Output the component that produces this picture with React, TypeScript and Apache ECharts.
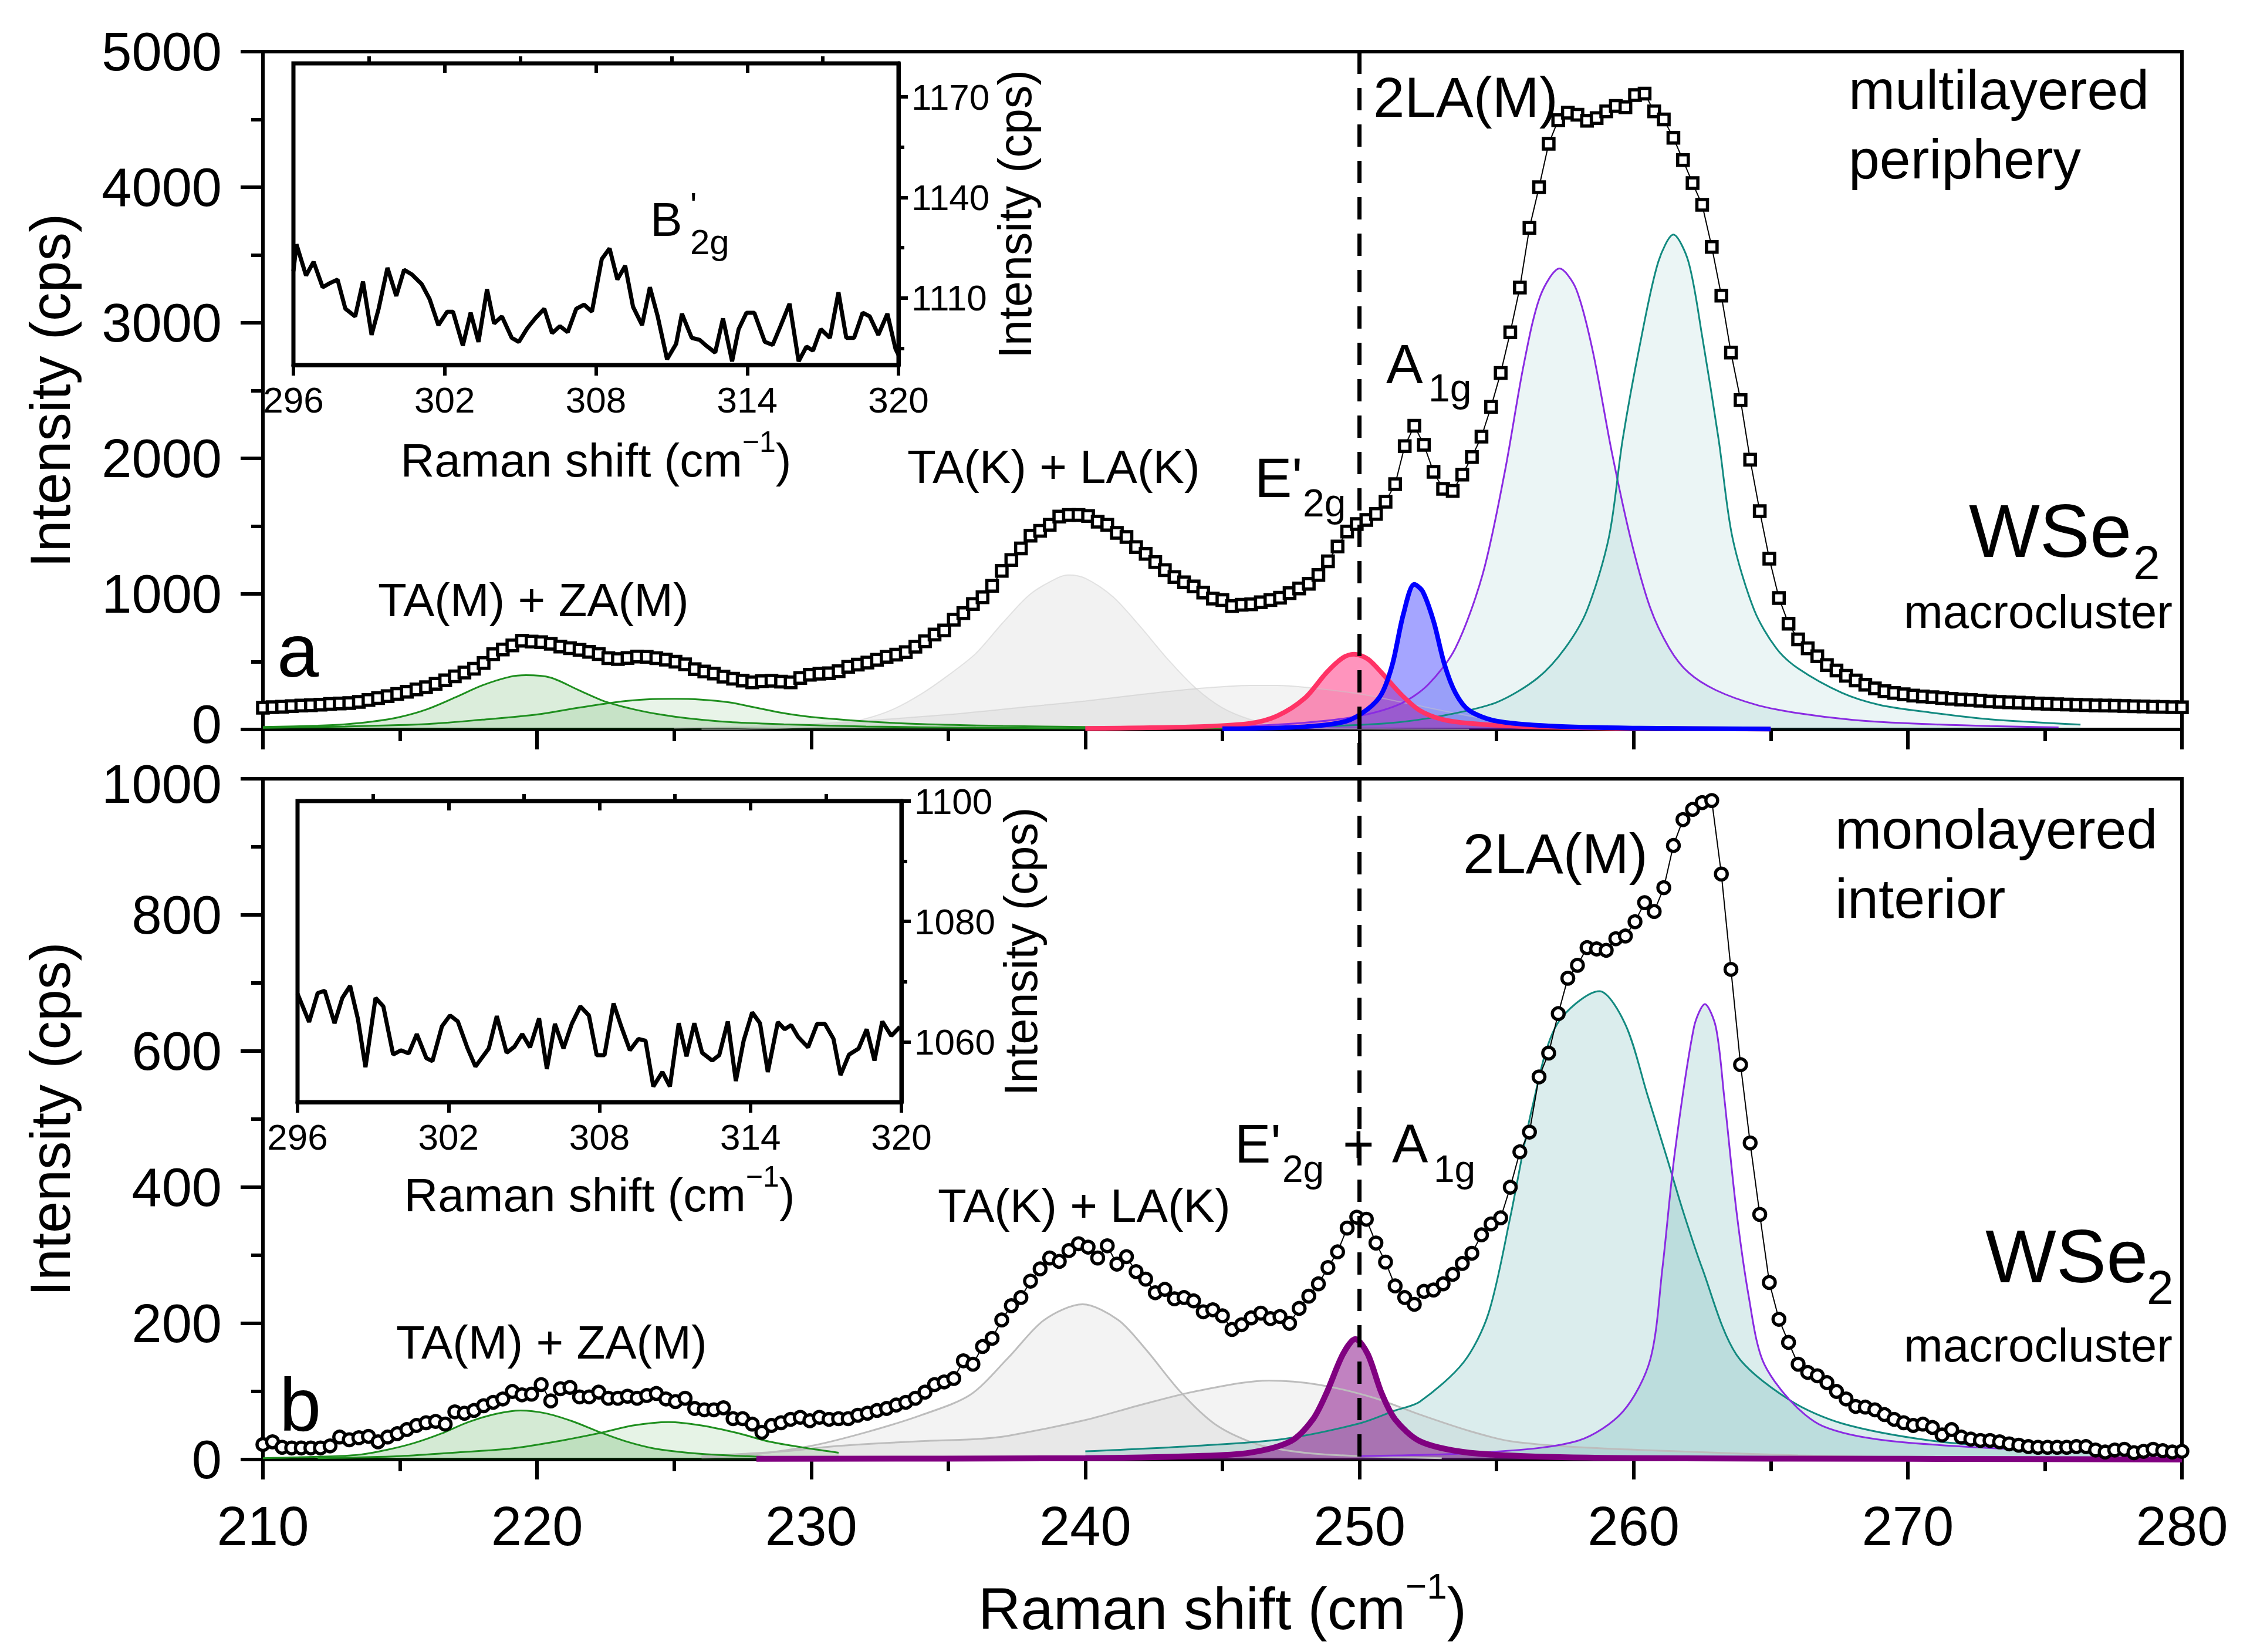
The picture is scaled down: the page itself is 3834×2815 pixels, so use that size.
import React, { useEffect, useRef } from "react";
import * as echarts from "echarts";

const FONT = "'Liberation Sans', Arial, Helvetica, sans-serif";

// ---------- main spectra (x grid: 210 → 280, step 0.35 cm-1) ----------
const mainX: number[] = Array.from({ length: 201 }, (_, i) => +(210 + 0.35 * i).toFixed(2));

const topY = [
  160, 165, 168, 172, 176, 179, 183, 188, 192, 195,
  203, 217, 232, 246, 262, 278, 295, 312, 337, 363,
  392, 420, 448, 490, 555, 590, 620, 655, 648, 644,
  632, 612, 600, 588, 572, 556, 526, 520, 527, 538,
  536, 526, 515, 500, 480, 445, 428, 412, 390, 375,
  360, 347, 356, 359, 353, 347, 380, 404, 411, 415,
  430, 462, 478, 494, 514, 536, 552, 570, 610, 650,
  700, 730, 810, 858, 925, 975, 1060, 1170, 1250, 1335,
  1430, 1465, 1510, 1570, 1582, 1582, 1575, 1532, 1510, 1450,
  1420, 1345, 1295, 1235, 1175, 1125, 1085, 1055, 1010, 965,
  955, 910, 920, 923, 938, 955, 972, 1005, 1040, 1075,
  1140, 1240, 1350, 1460, 1515, 1545, 1590, 1680, 1810, 2090,
  2240, 2100, 1900, 1775, 1760, 1880, 2010, 2160, 2380, 2630,
  2930, 3260, 3700, 4000, 4320, 4495, 4550, 4535, 4490, 4510,
  4560, 4600, 4590, 4680, 4690, 4560, 4500, 4365, 4200, 4030,
  3870, 3560, 3200, 2780, 2430, 1990, 1610, 1260, 970, 780,
  665, 598, 540, 475, 435, 396, 362, 330, 303, 283,
  270, 260, 250, 244, 238, 232, 226, 221, 217, 212,
  207, 204, 200, 198, 195, 192, 189, 186, 184, 182,
  180, 178, 176, 175, 173, 171, 170, 168, 167, 165,
  163,
];

const botY = [
  22, 26, 18, 17, 17, 17, 17, 20, 33, 29,
  32, 34, 26, 33, 38, 44, 50, 54, 56, 52,
  70, 68, 72, 79, 84, 89, 100, 95, 96, 110,
  86, 104, 106, 92, 92, 99, 90, 90, 93, 90,
  94, 97, 89, 85, 90, 75, 73, 73, 76, 60,
  60, 52, 40, 50, 54, 59, 62, 57, 62, 59,
  60, 60, 65, 68, 72, 75, 80, 84, 90, 99,
  110, 114, 119, 145, 140, 166, 178, 205, 226, 238,
  262, 280, 296, 291, 307, 317, 312, 296, 314, 287,
  298, 276, 265, 245, 250, 236, 238, 233, 217, 220,
  211, 191, 198, 208, 215, 207, 210, 200, 222, 240,
  258, 282, 305, 340, 356, 353, 318, 290, 255, 238,
  228, 247, 249, 258, 272, 288, 303, 330, 346, 355,
  400, 452, 481, 562, 597, 655, 707, 726, 752, 750,
  748, 765, 769, 790, 818, 805, 840, 902, 940, 955,
  965, 968, 860, 720, 580, 465, 360, 260, 206, 172,
  140, 128, 123, 113, 100, 89, 78, 77, 73, 66,
  59, 54, 50, 52, 47, 36, 44, 33, 30, 28,
  28, 26, 23, 21, 19, 18, 18, 18, 18, 19,
  19, 14, 11, 14, 15, 10, 12, 15, 13, 11,
  12,
];

// ---------- fitted components, panel a ----------
const aGreen1 = [[210, 18], [212, 28], [213, 38], [214, 58], [215, 92], [216, 150], [217, 235], [218, 325], [219, 388], [219.6, 400], [220.5, 382], [221.5, 292], [222.5, 205], [223.5, 150], [224.5, 110], [225.5, 82], [227, 55], [229, 38], [232, 22], [236, 13], [240, 8]];
const aGreen2 = [[210, 12], [213, 22], [216, 40], [218, 72], [220, 110], [221.5, 160], [223, 205], [224, 222], [225, 226], [226, 220], [227, 200], [228, 160], [229, 120], [230, 92], [232, 60], [234, 40], [237, 26], [240, 18], [245, 10]];
const aGray1 = [[226, 2], [228, 5], [230, 20], [231, 40], [232, 80], [233, 150], [234, 260], [235, 400], [236, 560], [237, 790], [238, 1000], [239, 1120], [239.4, 1140], [240, 1115], [241, 980], [242, 760], [243, 520], [244, 310], [245, 160], [246, 75], [247, 30], [248, 12], [250, 4], [254, 1]];
const aGray2 = [[225, 10], [230, 40], [235, 110], [238, 170], [240, 210], [242, 258], [244, 300], [246, 325], [247, 325], [248, 312], [250, 262], [252, 182], [254, 100], [256, 50], [258, 22], [260, 10], [263, 3]];
const aRed = [[240, 8], [244, 20], [246, 45], [247, 100], [248, 230], [248.8, 420], [249.4, 530], [249.8, 555], [250.3, 520], [250.8, 420], [251.5, 262], [252.2, 140], [253, 75], [254, 45], [256, 22], [260, 8], [265, 3]];
const aBlue = [[245, 5], [248, 20], [249.5, 60], [250.3, 150], [250.8, 260], [251.2, 480], [251.6, 850], [252.0, 1070], [252.3, 1020], [252.7, 800], [253.1, 480], [253.5, 270], [254, 140], [255, 62], [257, 25], [260, 10], [265, 3]];
const aViolet = [[240, 8], [245, 20], [248, 50], [250, 100], [251.5, 190], [252.5, 330], [253.5, 600], [254.5, 1150], [255.3, 1900], [256, 2700], [256.6, 3200], [257.3, 3400], [257.9, 3250], [258.5, 2800], [259.2, 2050], [259.9, 1400], [260.6, 900], [261.3, 600], [262, 420], [263, 290], [264.5, 180], [266, 120], [268, 70], [270, 45], [273, 25], [275.5, 15]];
const aTeal = [[245, 12], [248, 20], [251, 45], [253, 100], [255, 200], [256.5, 380], [257.5, 600], [258.3, 880], [259.1, 1420], [259.6, 2140], [260.25, 2860], [260.9, 3450], [261.45, 3650], [262, 3450], [262.5, 2900], [263.1, 2140], [263.6, 1420], [264.4, 880], [265.2, 600], [266, 450], [267.6, 270], [269, 180], [270.8, 126], [273, 75], [276.3, 36]];

// ---------- fitted components, panel b ----------
const bGreen1 = [[210, 2], [212, 4], [213.5, 7], [214.5, 14], [215.5, 24], [216.5, 38], [217.5, 55], [218.5, 67], [219.4, 72], [220.3, 68], [221.3, 56], [222.3, 40], [223.3, 26], [224.3, 16], [225.5, 10], [227, 6], [229, 3], [232, 1]];
const bGreen2 = [[212, 2], [215, 5], [217.3, 11], [219, 16], [220.5, 25], [222.3, 39], [223.5, 50], [224.8, 55], [226, 50], [227.3, 39], [228.5, 26], [229.8, 17], [231, 10]];
const bGray1 = [[226, 3], [228, 8], [230, 20], [232, 40], [234, 65], [235.8, 95], [237.2, 150], [238.5, 205], [239.9, 228], [241.2, 205], [242.2, 162], [243.5, 98], [244.8, 50], [246.3, 22], [248, 10], [250, 5], [253, 2]];
const bGray2 = [[226, 5], [229, 12], [231, 20], [234, 27], [236, 30], [237.2, 35], [240, 58], [242, 80], [244, 100], [246.7, 116], [248.5, 110], [250.5, 91], [252.2, 66], [254, 42], [255.5, 27], [258, 18], [261.6, 12], [266, 6], [272, 2]];
const bPurple = [[228, 1], [240, 2], [244, 5], [246, 10], [247.5, 27], [248.3, 59], [248.8, 98], [249.4, 155], [249.85, 177], [250.3, 155], [250.8, 98], [251.3, 59], [252.2, 27], [253.8, 11], [256, 5], [260, 2], [270, 1], [280, 0]];
const bTeal = [[240, 12], [244, 20], [247.2, 30], [250, 53], [251.3, 72], [252.2, 85], [253.8, 143], [254.7, 214], [255.5, 356], [256.3, 517], [257.2, 639], [258.75, 688], [259.7, 639], [260.5, 536], [261.2, 445], [261.8, 365], [262.5, 281], [263.75, 154], [265.7, 87], [267.6, 53], [270.8, 28], [274, 18], [280, 10]];
const bViolet = [[250, 5], [254.8, 11], [258, 28], [259.6, 70], [260.6, 146], [261.05, 281], [261.5, 450], [262.2, 635], [262.6, 669], [263.0, 635], [263.3, 534], [263.75, 365], [264.2, 239], [264.7, 146], [265.7, 87], [266.9, 49], [269.2, 28], [274, 15], [280, 8]];

// ---------- insets (B'2g region) ----------
const insetA = [[296.0, 1118], [296.12, 1126.0], [296.5, 1116.7], [296.8, 1120.8], [297.16, 1113.2], [297.44, 1114.4], [297.75, 1115.5], [298.06, 1106.8], [298.45, 1104.5], [298.76, 1114.9], [299.1, 1099.0], [299.38, 1106.8], [299.73, 1119.0], [300.08, 1110.6], [300.39, 1118.4], [300.7, 1117.0], [301.09, 1114.1], [301.4, 1109.7], [301.75, 1101.9], [302.1, 1105.9], [302.33, 1105.9], [302.72, 1095.8], [303.03, 1105.6], [303.34, 1096.9], [303.68, 1112.6], [303.96, 1102.4], [304.27, 1104.5], [304.66, 1098.1], [304.94, 1096.9], [305.28, 1101.0], [305.59, 1103.9], [305.95, 1106.8], [306.26, 1099.5], [306.57, 1101.6], [306.88, 1099.8], [307.22, 1106.8], [307.53, 1108.0], [307.84, 1105.9], [308.23, 1121.6], [308.54, 1124.8], [308.85, 1115.5], [309.16, 1119.6], [309.47, 1107.4], [309.83, 1101.9], [310.14, 1113.2], [310.45, 1104.5], [310.82, 1091.7], [311.18, 1096.3], [311.41, 1105.3], [311.8, 1098.1], [312.11, 1097.5], [312.42, 1095.5], [312.73, 1093.7], [313.04, 1103.9], [313.4, 1091.1], [313.66, 1100.7], [313.97, 1105.6], [314.28, 1105.6], [314.7, 1096.9], [315.01, 1096.0], [315.32, 1101.6], [315.68, 1108.3], [316.04, 1091.1], [316.35, 1095.5], [316.61, 1094.3], [316.92, 1100.7], [317.28, 1098.1], [317.62, 1111.7], [317.93, 1098.1], [318.24, 1098.1], [318.58, 1105.6], [318.86, 1104.5], [319.2, 1099.0], [319.56, 1105.3], [319.88, 1094.9], [320, 1093]];
const insetB = [[296.0, 1068.0], [296.46, 1063.3], [296.8, 1068.1], [297.08, 1068.5], [297.47, 1063.1], [297.78, 1067.3], [298.09, 1069.3], [298.4, 1063.8], [298.7, 1055.8], [299.1, 1067.3], [299.41, 1065.9], [299.8, 1057.9], [300.11, 1058.6], [300.42, 1058.1], [300.74, 1061.3], [301.12, 1057.3], [301.36, 1056.8], [301.74, 1062.6], [302.06, 1064.4], [302.37, 1063.4], [302.76, 1058.9], [303.07, 1055.9], [303.6, 1058.9], [303.92, 1064.3], [304.31, 1058.2], [304.62, 1059.2], [304.93, 1061.3], [305.24, 1059.1], [305.6, 1063.9], [305.91, 1055.5], [306.23, 1063.0], [306.57, 1058.9], [306.9, 1063.0], [307.24, 1065.9], [307.58, 1064.4], [307.89, 1057.8], [308.2, 1057.8], [308.56, 1066.4], [308.87, 1062.5], [309.21, 1058.6], [309.55, 1060.5], [309.83, 1060.2], [310.14, 1052.6], [310.5, 1055.0], [310.8, 1052.6], [311.15, 1063.1], [311.46, 1057.6], [311.77, 1063.1], [312.08, 1058.2], [312.48, 1056.9], [312.76, 1057.8], [313.1, 1063.4], [313.42, 1053.5], [313.73, 1060.2], [314.07, 1064.9], [314.38, 1063.1], [314.69, 1055.0], [315.09, 1063.3], [315.36, 1062.1], [315.62, 1062.8], [315.9, 1060.8], [316.29, 1059.1], [316.65, 1063.0], [316.96, 1063.0], [317.3, 1060.5], [317.58, 1054.5], [317.92, 1057.9], [318.3, 1058.9], [318.62, 1062.1], [318.93, 1056.9], [319.24, 1063.4], [319.6, 1061.0], [319.94, 1062.5]];

// tick labels
const mainXTicks = [210, 220, 230, 240, 250, 260, 270, 280];
const insetXLabels = [296, 302, 308, 314, 320];
const insetXMinor = [299, 305, 311, 317];
const insetXTopTicks = [302, 308, 314];
const insetAYLabels = [1110, 1140, 1170];
const insetAYMinor = [1095, 1125, 1155];
const insetBYLabels = [1060, 1080, 1100];
const insetBYMinor = [1070, 1090];

const BLACK = "#000";
const plain = (v: number) => String(v);

function mainXAxis(gridIndex: number, showLabels: boolean) {
  return {
    type: "value", gridIndex, min: mainXTicks[0], max: mainXTicks[mainXTicks.length - 1], interval: 10,
    axisLine: { show: true, onZero: false, lineStyle: { color: BLACK, width: 6 } },
    axisTick: { show: true, length: 34, lineStyle: { color: BLACK, width: 6 } },
    minorTick: { show: true, splitNumber: 2, length: 20, lineStyle: { color: BLACK, width: 6 } },
    axisLabel: { show: showLabels, fontSize: 94, color: BLACK, fontFamily: FONT, margin: 66, formatter: plain },
    splitLine: { show: false },
    name: showLabels ? "{a|Raman shift (cm}{b|\u22121}{a|)}" : "",
    nameLocation: "middle", nameGap: 184,
    nameTextStyle: {
      rich: {
        a: { fontSize: 100, fontFamily: FONT, color: BLACK, lineHeight: 120, verticalAlign: "bottom" },
        b: { fontSize: 62, fontFamily: FONT, color: BLACK, lineHeight: 62, verticalAlign: "top" },
      },
    },
  };
}

// top panel: the "0" label is nudged up slightly, bottom panel: the "1000" label nudged down slightly
function mainYAxis(gridIndex: number, max: number, interval: number, nudge: "lo" | "hi") {
  const tok = { fontSize: 92, fontFamily: FONT, color: BLACK };
  return {
    type: "value", gridIndex, min: 0, max, interval,
    axisLine: { show: true, onZero: false, lineStyle: { color: BLACK, width: 6 } },
    axisTick: { show: true, length: 38, lineStyle: { color: BLACK, width: 6 } },
    minorTick: { show: true, splitNumber: 2, length: 20, lineStyle: { color: BLACK, width: 6 } },
    axisLabel: {
      fontSize: 92, color: BLACK, fontFamily: FONT, margin: 70,
      formatter: (v: number) => {
        if (nudge === "lo" && v === 0) return "{lo|0}";
        if (nudge === "hi" && v === max) return "{hi|" + v + "}";
        return String(v);
      },
      rich: {
        lo: { ...tok, padding: [0, 0, 18, 0] },
        hi: { ...tok, padding: [18, 0, 0, 0] },
      },
    },
    splitLine: { show: false },
    name: "Intensity (cps)", nameLocation: "middle", nameRotate: 90, nameGap: 314,
    nameTextStyle: { fontSize: 97, color: BLACK, fontFamily: FONT },
  };
}

function insetXAxes(gridIndex: number, nameGap: number) {
  const common = { type: "value", gridIndex, min: insetXLabels[0], max: insetXLabels[insetXLabels.length - 1], splitLine: { show: false } };
  return [
    {
      ...common,
      axisLine: { show: true, onZero: false, lineStyle: { color: BLACK, width: 7 } },
      axisTick: { show: true, customValues: insetXLabels, length: 18, lineStyle: { color: BLACK, width: 6 } },
      axisLabel: { customValues: insetXLabels, fontSize: 62, color: BLACK, fontFamily: FONT, margin: 28, formatter: plain },
      name: "{a|Raman shift (cm}{b|\u22121}{a|)}", nameLocation: "middle", nameGap,
      nameTextStyle: {
        rich: {
          a: { fontSize: 80, fontFamily: FONT, color: BLACK, lineHeight: 96, verticalAlign: "bottom" },
          b: { fontSize: 50, fontFamily: FONT, color: BLACK, lineHeight: 50, verticalAlign: "top" },
        },
      },
    },
    {
      ...common,
      axisLine: { show: false },
      axisTick: { show: true, customValues: insetXMinor, length: 12, lineStyle: { color: BLACK, width: 6 } },
      axisLabel: { show: false },
    },
    {
      ...common, position: "top",
      axisLine: { show: false },
      axisTick: { show: true, inside: true, customValues: insetXTopTicks, length: 16, lineStyle: { color: BLACK, width: 6 } },
      axisLabel: { show: false },
    },
  ];
}

function insetYAxes(gridIndex: number, min: number, max: number, labels: number[], minor: number[]) {
  const common = { type: "value", gridIndex, min, max, position: "right", splitLine: { show: false } };
  return [
    {
      ...common,
      axisLine: { show: true, onZero: false, lineStyle: { color: BLACK, width: 7 } },
      axisTick: { show: true, customValues: labels, length: 16, lineStyle: { color: BLACK, width: 6 } },
      axisLabel: { customValues: labels, fontSize: 62, color: BLACK, fontFamily: FONT, margin: 22, formatter: plain },
      name: "Intensity (cps)", nameLocation: "middle", nameRotate: 90, nameGap: 156,
      nameTextStyle: { fontSize: 79, color: BLACK, fontFamily: FONT },
    },
    {
      ...common,
      axisLine: { show: false },
      axisTick: { show: true, customValues: minor, length: 10, lineStyle: { color: BLACK, width: 6 } },
      axisLabel: { show: false },
    },
  ];
}

function comp(data: number[][], xi: number, yi: number, line: string, width: number, fill: string) {
  return {
    type: "line", data, xAxisIndex: xi, yAxisIndex: yi,
    smooth: 0.3, symbol: "none", silent: true,
    lineStyle: { color: line, width },
    areaStyle: { color: fill, origin: "start" },
    z: 2,
  };
}

function text(t: string, x: number, baseline: number, size: number, align = "left") {
  return {
    type: "text", x, y: baseline - 0.35 * size, z: 100, silent: true,
    style: {
      text: t, fontSize: size, fontFamily: FONT, fill: BLACK,
      align, verticalAlign: "middle", textAlign: align, textVerticalAlign: "middle",
    },
  };
}

export default function App() {
  const ref = useRef<HTMLDivElement>(null);

  useEffect(() => {
    if (!ref.current) return;
    const chart = echarts.init(ref.current, null, { renderer: "svg" });

    const ix = insetXAxes(2, 106);
    const ix2 = insetXAxes(3, 102);
    const iy = insetYAxes(2, 1090, 1180, insetAYLabels, insetAYMinor);
    const iy2 = insetYAxes(3, 1050, 1100, insetBYLabels, insetBYMinor);

    const option: any = {
      animation: false,
      backgroundColor: "#fff",
      textStyle: { fontFamily: FONT },
      grid: [
        { left: 448, top: 88, width: 3270, height: 1155, show: true, borderColor: BLACK, borderWidth: 6, backgroundColor: "transparent" },
        { left: 448, top: 1327, width: 3270, height: 1160, show: true, borderColor: BLACK, borderWidth: 6, backgroundColor: "transparent" },
        { left: 500, top: 108, width: 1031, height: 514, show: true, borderColor: BLACK, borderWidth: 7, backgroundColor: "transparent" },
        { left: 507, top: 1365, width: 1029, height: 513, show: true, borderColor: BLACK, borderWidth: 7, backgroundColor: "transparent" },
      ],
      // x: 0 top main, 1 bottom main, 2-4 inset a, 5-7 inset b
      xAxis: [mainXAxis(0, false), mainXAxis(1, true), ...ix, ...ix2],
      // y: 0 top main, 1 bottom main, 2-3 inset a, 4-5 inset b
      yAxis: [mainYAxis(0, 5000, 1000, "lo"), mainYAxis(1, 1000, 200, "hi"), ...iy, ...iy2],
      series: [
        // panel a components
        comp(aGray2, 0, 0, "rgba(200,200,200,0.5)", 2, "rgba(128,128,128,0.14)"),
        comp(aGray1, 0, 0, "rgba(210,210,210,0.6)", 2, "rgba(128,128,128,0.15)"),
        comp(aGreen1, 0, 0, "#1f8f1f", 3, "rgba(0,128,0,0.2)"),
        comp(aGreen2, 0, 0, "#1f8f1f", 3, "rgba(0,128,0,0.13)"),
        comp(aViolet, 0, 0, "#8a2be2", 3, "rgba(0,128,128,0.11)"),
        comp(aTeal, 0, 0, "#138a80", 3, "rgba(0,128,128,0.11)"),
        comp(aRed, 0, 0, "#ff3366", 8, "rgba(255,20,110,0.65)"),
        comp(aBlue, 0, 0, "#0000ff", 8, "rgba(20,20,255,0.55)"),
        {
          type: "line", xAxisIndex: 0, yAxisIndex: 0,
          data: mainX.map((x, i) => [x, topY[i]]),
          symbol: "rect", symbolSize: 18, showAllSymbol: true,
          itemStyle: { color: "#fff", borderColor: BLACK, borderWidth: 5.5 },
          lineStyle: { color: BLACK, width: 2 }, z: 5, silent: true,
        },
        // panel b components
        comp(bGray2, 1, 1, "#bdbdbd", 3, "rgba(128,128,128,0.14)"),
        comp(bGray1, 1, 1, "#bdbdbd", 3, "rgba(128,128,128,0.14)"),
        comp(bGreen1, 1, 1, "#1f8f1f", 3, "rgba(0,128,0,0.24)"),
        comp(bGreen2, 1, 1, "#1f8f1f", 3, "rgba(0,128,0,0.14)"),
        comp(bTeal, 1, 1, "#138a80", 3, "rgba(0,128,128,0.2)"),
        comp(bViolet, 1, 1, "#8a2be2", 3, "rgba(0,128,128,0.2)"),
        comp(bPurple, 1, 1, "#800080", 10, "rgba(128,0,128,0.7)"),
        {
          type: "line", xAxisIndex: 1, yAxisIndex: 1,
          data: mainX.map((x, i) => [x, botY[i]]),
          symbol: "circle", symbolSize: 20, showAllSymbol: true,
          itemStyle: { color: "#fff", borderColor: BLACK, borderWidth: 5.5 },
          lineStyle: { color: BLACK, width: 2 }, z: 5, silent: true,
        },
        // insets
        { type: "line", xAxisIndex: 2, yAxisIndex: 2, data: insetA, symbol: "none", lineStyle: { color: BLACK, width: 7 }, silent: true, z: 6 },
        { type: "line", xAxisIndex: 5, yAxisIndex: 4, data: insetB, symbol: "none", lineStyle: { color: BLACK, width: 7 }, silent: true, z: 6 },
      ],
    };

    chart.setOption(option);

    const pTop = chart.convertToPixel({ xAxisIndex: 0, yAxisIndex: 0 } as any, [250, 5000]) as number[];
    const pBot = chart.convertToPixel({ xAxisIndex: 1, yAxisIndex: 1 } as any, [250, 0]) as number[];

    const graphics: any[] = [
      {
        type: "line", z: 50, silent: true,
        shape: { x1: pTop[0], y1: pTop[1], x2: pBot[0], y2: pBot[1] },
        style: { stroke: BLACK, lineWidth: 7, lineDash: [38, 24] },
      },
      // panel a
      text("a", 472, 1153, 128),
      text("TA(M) + ZA(M)", 644, 1050, 80),
      text("TA(K) + LA(K)", 1546, 823, 80),
      text("E'", 2138, 847, 95),
      text("2g", 2220, 880, 66),
      text("A", 2362, 653, 94),
      text("1g", 2434, 684, 66),
      text("2LA(M)", 2340, 199, 96),
      text("multilayered", 3150, 186, 95),
      text("periphery", 3150, 304, 95),
      text("WSe", 3355, 949, 128),
      text("2", 3635, 987, 82),
      text("macrocluster", 3702, 1070, 80, "right"),
      // panel b
      text("b", 476, 2438, 128),
      text("TA(M) + ZA(M)", 675, 2315, 80),
      text("TA(K) + LA(K)", 1598, 2082, 80),
      text("E'", 2104, 1981, 92),
      text("2g", 2185, 2014, 64),
      text("+", 2288, 1981, 92),
      text("A", 2372, 1981, 92),
      text("1g", 2443, 2014, 64),
      text("2LA(M)", 2493, 1488, 96),
      text("monolayered", 3127, 1446, 95),
      text("interior", 3127, 1564, 95),
      text("WSe", 3383, 2185, 128),
      text("2", 3658, 2222, 82),
      text("macrocluster", 3702, 2320, 80, "right"),
      // inset a label
      text("B", 1108, 402, 82),
      text("'", 1176, 370, 60),
      text("2g", 1176, 433, 60),
    ];
    chart.setOption({ graphic: graphics });

    return () => chart.dispose();
  }, []);

  return <div ref={ref} style={{ position: "fixed", left: 0, top: 0, width: 3834, height: 2815 }} />;
}
